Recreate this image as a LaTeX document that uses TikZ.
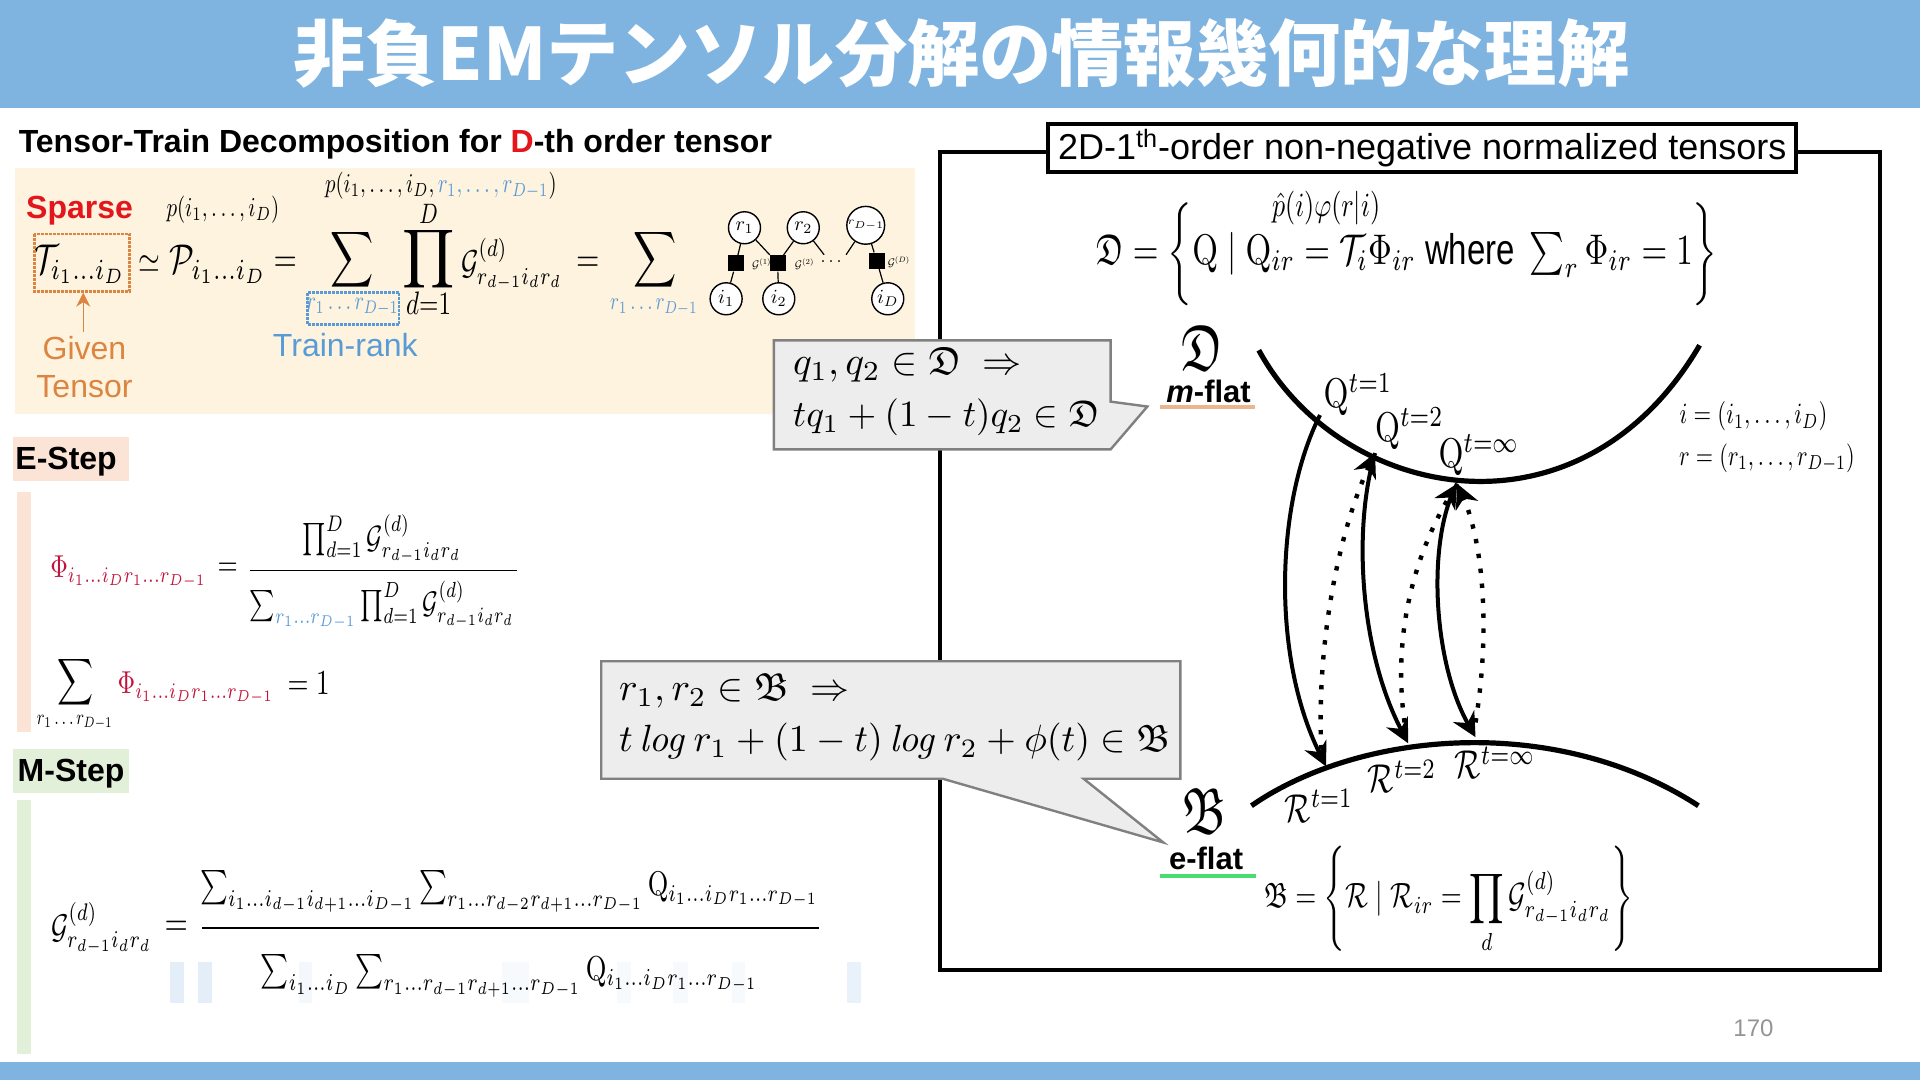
\documentclass[tikz,border=0pt]{standalone}
\usepackage[no-math]{fontspec}
\usepackage{amsmath,amssymb}
\setmainfont{Liberation Sans}
\newfontfamily\cjk{Noto Sans CJK JP}
\usetikzlibrary{arrows.meta}
\definecolor{bar}{HTML}{7FB3E0}
\definecolor{beige}{HTML}{FDF3DF}
\definecolor{est}{HTML}{FBE3D6}
\definecolor{mst}{HTML}{E2F0D9}
\definecolor{sparse}{HTML}{E3161C}
\definecolor{given}{HTML}{DB8540}
\definecolor{rank}{HTML}{5B9BD5}
\definecolor{phi}{HTML}{C0143C}
\definecolor{callfill}{HTML}{EDEDED}
\definecolor{callline}{HTML}{808080}
\definecolor{stripe}{HTML}{E3EEF9}

\begin{document}
\begin{tikzpicture}[x=0.612245pt, y=-0.612245pt,
  eq/.style={inner sep=0pt, xscale=#1, yscale=1.3*#1}, eq/.default=1.35,
  call/.style={inner sep=0pt, anchor=west, scale=#1},
  sans/.style={inner sep=0pt, font=\fontsize{#1}{#1}\selectfont}, sans/.default=16,
  bold/.style={inner sep=0pt, font=\fontsize{#1}{#1}\selectfont\bfseries}, bold/.default=16,
  var/.style={circle, draw, fill=white, line width=0.7pt, minimum size=16pt, inner sep=0pt},
  core/.style={fill=black, minimum size=8pt, inner sep=0pt},
  thin edge/.style={line width=0.6pt},
  callout/.style={fill=callfill, draw=callline, line width=1.2pt},
  arc/.style={line width=2.6pt},
  there/.style={line width=2pt, -{Stealth[length=12pt,width=12pt]}},
  back/.style={line width=2.2pt, dash pattern=on 2.2pt off 5.3pt, -{Stealth[length=12pt,width=12pt]}}]
\newcommand{\Gd}{\mathcal{G}^{(d)}_{r_{d-1}i_dr_d}}
\newcommand{\Phiv}[1]{\textcolor{phi}{\Phi_{i_1\dots i_Dr_1\dots r_{#1}}}}
\useasboundingbox (0,0) rectangle (1568,882);
\fill[bar] (0,0) rectangle (1568,88);
\fill[bar] (0,867) rectangle (1568,882);
\node[inner sep=0pt, text=white, font=\fontsize{36.1}{40}\selectfont\cjk\bfseries] (title) at (785,44) {非負EMテンソル分解の情報幾何的な理解};

% decomposition
\fill[beige] (12,137) rectangle (747,338);
\node[bold, anchor=west] (head) at (15,118) {Tensor-Train Decomposition for \textcolor{sparse}{D}-th order tensor};
\node[bold, text=sparse] (sparse) at (65,172) {Sparse};
\node[eq=1.05] (pall) at (182,171) {$p(i_1,\dots,i_D)$};
\node[eq=1.04] (pjoint) at (360,152) {$p(i_1,\dots,i_D,\textcolor{rank}{r_1,\dots,r_{D-1}})$};
\node[eq=1.6] (tens) at (65,216) {$\mathcal{T}_{i_1\dots i_D}$};
\draw[given, line width=1.3pt, dash pattern=on 1.5pt off 0.5pt] (28,191) rectangle (106,238);
\node[eq=1.4] (sim) at (122,216) {$\simeq$};
\node[eq=1.6] (ptens) at (178,216) {$\mathcal{P}_{i_1\dots i_D}$};
\node[eq=1.5] (eqa) at (233,216) {$=$};
\node[eq=1.5] (suma) at (288,212) {$\displaystyle\sum$};
\node[eq=1, text=rank] (rka) at (288,251) {$r_1\dots r_{D-1}$};
\draw[rank, line width=1.2pt, dash pattern=on 1.5pt off 0.5pt] (251,239) rectangle (326,265);
\node[inner sep=0pt, scale=2.05] (proda) at (350,212) {$\displaystyle\prod$};
\node[eq=1.08] (upa) at (350,175) {$D$};
\node[eq=1.25] (loa) at (350,248) {$d{=}1$};
\node[eq=1.33] (ga) at (418,216) {$\Gd$};
\node[eq=1.5] (eqb) at (480,216) {$=$};
\node[eq=1.5] (sumb) at (535,212) {$\displaystyle\sum$};
\node[eq=0.95, text=rank] (rkb) at (534,251) {$r_1\dots r_{D-1}$};
% small train graph
\foreach \n/\x/\y/\t in {r1/608/186/r_1, r2/656/186/r_2, rD/707/184/\scriptscriptstyle r_{D-1}, i1/593/244/i_1, i2/636/244/i_2, iD/725/244/i_D}
  \node[var] (\n) at (\x,\y) {$\t$};
\foreach \n/\x/\y in {c1/601/215, c2/635/215, cD/716/213}
  \node[core] (\n) at (\x,\y) {};
\coordinate (cut1) at (673,208);
\coordinate (cut2) at (691,208);
\foreach \a/\b in {r1/c1, r1/c2, r2/c2, r2/cut1, rD/cut2, rD/cD, c1/i1, c2/i2, cD/iD}
  \draw[thin edge] (\a) -- (\b);
\foreach \n/\x/\y/\t in {g1/622/216/(1), g2/657/216/(2), gD/734/214/(D)}
  \node[inner sep=0pt, scale=0.55] (\n) at (\x,\y) {$\mathcal{G}^{\t}$};
\node[inner sep=0pt, scale=0.9] (gdots) at (680,214) {$\dots$};
\node[sans, text=given, align=center] (given) at (69,300) {Given\\[3.2pt]Tensor};
\draw[given, line width=0.7pt, -{Stealth[length=7pt,width=7pt]}] (68,271) -- (68,239);
\node[sans, text=rank] (train) at (282,282) {Train-rank};

% E step
\fill[est] (11,357) rectangle (105,393);
\node[bold] (estep) at (54,377) {E-Step};
\fill[est] (14,402) rectangle (25,598);
\node[eq=1.22] (phia) at (105,467) {$\Phiv{D-1}$};
\node[eq=1.3] (eqc) at (186,465) {$=$};
\draw[line width=0.5pt] (204,466) -- (422,466);
\node[eq=1.24] (numa) at (312,440) {$\prod_{d=1}^{D}\Gd$};
\node[eq=1.2] (dena) at (312,494) {$\sum_{\textcolor{rank}{r_1\dots r_{D-1}}}\prod_{d=1}^{D}\Gd$};
\node[eq=1.25] (sumc) at (62,557) {$\displaystyle\sum$};
\node[eq=0.82] (rkc) at (61,590) {$r_1\dots r_{D-1}$};
\node[eq=1.22] (phib) at (160,562) {$\Phiv{D-1}$};
\node[eq=1.35] (one) at (252,558) {$=1$};

% M step
\fill[mst] (11,612) rectangle (105,648);
\node[bold] (mstep) at (58,632) {M-Step};
\fill[mst] (14,653) rectangle (25,861);
\foreach \x/\w/\o in {139/11/100, 162/11/100, 244/11/40, 410/22/30, 504/11/30, 550/12/30, 598/10/30, 692/11/80}
  \fill[stripe!\o!white] (\x,786) rectangle ++(\w,33);
\node[eq=1.32] (gb) at (83,758) {$\Gd$};
\node[eq=1.5] (eqd) at (144,758) {$=$};
\draw[line width=0.8pt] (165,758) -- (669,758);
\node[eq=1.32] (numb) at (416,728) {$\sum_{i_1\dots i_{d-1}i_{d+1}\dots i_{D-1}}\sum_{r_1\dots r_{d-2}r_{d+1}\dots r_{D-1}}\mathrm{Q}_{i_1\dots i_Dr_1\dots r_{D-1}}$};
\node[eq=1.33] (denb) at (416,797) {$\sum_{i_1\dots i_D}\sum_{r_1\dots r_{d-1}r_{d+1}\dots r_{D-1}}\mathrm{Q}_{i_1\dots i_Dr_1\dots r_{D-1}}$};

% model space
\draw[line width=2pt] (768,124) rectangle (1535,792);
\node[sans=18, draw, fill=white, line width=2pt, minimum width=374pt, minimum height=24pt] (frame) at (1161.5,121) {2D-1\textsuperscript{th}-order non-negative normalized tensors};
\node[eq=1.3] (phat) at (1083,170) {$\hat{p}(i)\varphi(r|i)$};
\node[eq=1.65] (dset) at (1149,209) {$\mathfrak{D}=\left\{\rule[-10.5pt]{0pt}{21pt}\mathrm{Q}\mid\mathrm{Q}_{ir}=\mathcal{T}_i\Phi_{ir}\ \text{where}\ \sum\nolimits_r\Phi_{ir}=1\right\}$};
\node[eq=2.5] (dlab) at (982,284) {$\mathfrak{D}$};
\node[bold=15.5] (mflat) at (987,320) {\textit{m}-flat};
\fill[given!60] (947,331) rectangle (1025,334);
\node[eq=2.5] (blab) at (984,662) {$\mathfrak{B}$};
\node[bold=15.5] (eflat) at (985,701) {e-flat};
\fill[green!60!teal!70] (947,714) rectangle (1026,717);
\node[eq=1.35] (bset) at (1183,735) {$\mathfrak{B}=\left\{\rule[-12pt]{0pt}{24pt}\mathcal{R}\mid\mathcal{R}_{ir}=\displaystyle\prod_d\Gd\right\}$};
\node[eq=1.13] (idef) at (1432,340) {$i=(i_1,\dots,i_D)$};
\node[eq=1.11] (rdef) at (1443,374) {$r=(r_1,\dots,r_{D-1})$};
\node[sans=12, text=black!42] (page) at (1432,840) {170};
\draw[arc] (1028,286) .. controls (1095,409) and (1290,449) .. (1388,282);
\draw[arc] (1022,658) .. controls (1110,597) and (1270,582) .. (1387,658);
\coordinate (Q1) at (1078,339);
\coordinate (Q2) at (1123,370);
\coordinate (Qi) at (1190,395);
\coordinate (R1) at (1083,626);
\coordinate (R2) at (1150,607);
\coordinate (Ri) at (1205,602);
\coordinate (B1) at (1079,612);
\coordinate (B2) at (1147,590);
\coordinate (B3) at (1205,590);
\draw[there] (Q1) .. controls (1042,410) and (1038,535) .. (R1);
\draw[back] (B1) .. controls (1075,520) and (1095,430) .. (Q2);
\draw[there] (Q2) .. controls (1105,430) and (1110,530) .. (R2);
\draw[back] (B2) .. controls (1136,510) and (1160,445) .. (Qi);
\draw[there] (Qi) .. controls (1165,440) and (1170,540) .. (Ri);
\draw[back] (B3) .. controls (1218,510) and (1210,440) .. (Qi);
\foreach \n/\x/\y/\t in {qa/1109/322/1, qb/1151/350/2, qc/1208/372/\infty}
  \node[eq=1.6] (\n) at (\x,\y) {$\mathrm{Q}^{t=\t}$};
\foreach \n/\x/\y/\t in {ra/1077/658/1, rb/1145/634/2, rc/1221/623/\infty}
  \node[eq=1.55] (\n) at (\x,\y) {$\mathcal{R}^{t=\t}$};

% callouts
\draw[callout] (632,278) -- (907,278) -- (907,328) -- (937,332) -- (907,367) -- (632,367) -- cycle;
\node[call=1.96] (ca) at (647,298) {$q_1,q_2\in\mathfrak{D}\ \Rightarrow$};
\node[call=1.85] (cb) at (647,341) {$tq_1+(1-t)q_2\in\mathfrak{D}$};
\draw[callout] (491,540) -- (964,540) -- (964,636) -- (885,636) -- (950,688) -- (770,636) -- (491,636) -- cycle;
\node[call=1.95] (cc) at (505,564) {$r_1,r_2\in\mathfrak{B}\ \Rightarrow$};
\node[call=1.9] (cd) at (505,606) {$t\,\mathit{log}\,r_1+(1-t)\,\mathit{log}\,r_2+\phi(t)\in\mathfrak{B}$};
\end{tikzpicture}
\end{document}
